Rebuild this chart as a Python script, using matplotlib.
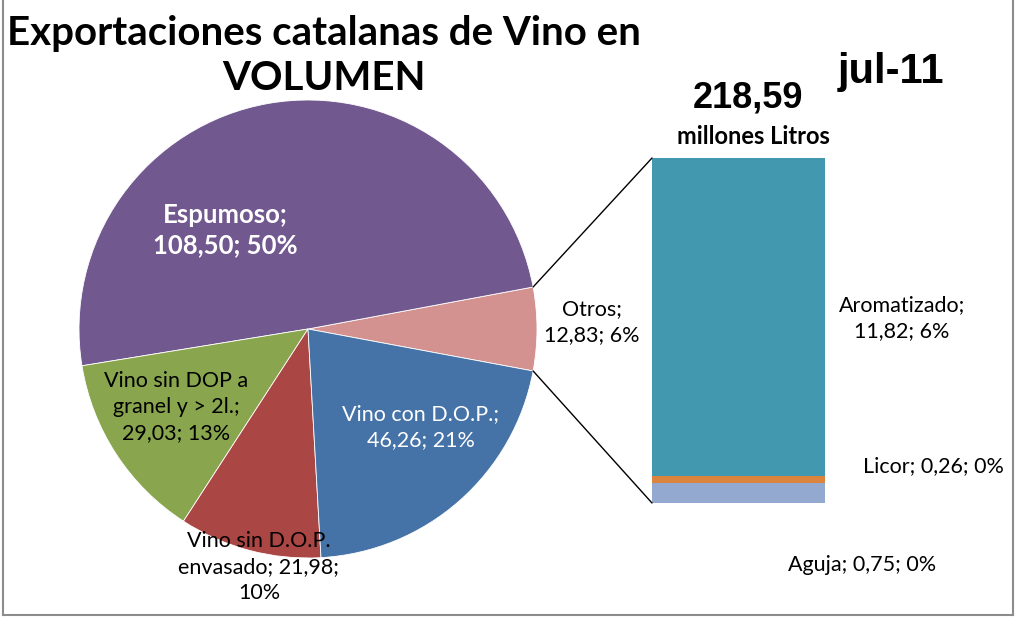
import matplotlib
matplotlib.use('Agg')
import numpy as np
import matplotlib.pyplot as plt
from matplotlib.patches import ConnectionPatch
from matplotlib.lines import Line2D

# data
pie_labels = ['Otros', 'Espumoso', 'Vino sin DOP a granel y > 2l.', 'Vino sin D.O.P. envasado', 'Vino con D.O.P.']
pie_values = [12.83, 108.50, 29.03, 21.98, 46.26]
pie_colors = ['#D39290', '#71588F', '#89A54E', '#AA4643', '#4572A7']

bar_labels = ['Aguja', 'Licor', 'Aromatizado']
bar_values = [0.75, 0.26, 11.82]
bar_colors = ['#93A9CF', '#DB843D', '#4198AF']

total_txt = '218,59'
month_txt = 'jul-11'

W, H = 1016, 618
plt.rcParams['font.family'] = ['Lato', 'DejaVu Sans']
fig = plt.figure(figsize=(W / 100, H / 100), dpi=100)

# main axes in pixel coords (y up)
ax = fig.add_axes([0, 0, 1, 1])
ax.set_aspect('equal')

cx, cy, r = 308, H - 329, 229
total = sum(pie_values)
start = -180 * pie_values[0] / total
wedges, _ = ax.pie(pie_values, colors=pie_colors, startangle=start, counterclock=True,
                   center=(cx, cy), radius=r, frame=True,
                   wedgeprops=dict(edgecolor='white', linewidth=0.6))
ax.set_xlim(0, W)
ax.set_ylim(0, H)
ax.axis('off')

def px(x, y):
    return x, H - y

lab = dict(ha='center', va='center', fontsize=15.5, linespacing=1.35)
ax.text(*px(225, 230), 'Espumoso;\n108,50; 50%', color='white', fontweight='bold',
        ha='center', va='center', fontsize=18.5, linespacing=1.33)
ax.text(*px(592, 322), 'Otros;\n12,83; 6%', color='black', **lab)
ax.text(*px(421, 427), 'Vino con D.O.P.;\n46,26; 21%', color='white', **lab)
ax.text(*px(259, 567), 'Vino sin D.O.P.\nenvasado; 21,98;\n10%', color='black', **lab)
ax.text(*px(176, 407), 'Vino sin DOP a\ngranel y > 2l.;\n29,03; 13%', color='black', **lab)
ax.text(*px(902, 318), 'Aromatizado;\n11,82; 6%', color='black', **lab)
ax.text(*px(933, 466), 'Licor; 0,26; 0%', color='black', **lab)
ax.text(*px(862, 565), 'Aguja; 0,75; 0%', color='black', **lab)

ax.text(*px(324, 56), 'Exportaciones catalanas de Vino en\nVOLUMEN', ha='center', va='center',
        fontsize=29, fontweight='bold', linespacing=1.3)
ax.text(*px(891, 72), month_txt, ha='center', va='center', fontsize=30, fontweight='bold',
        family='Liberation Sans')
ax.text(*px(748, 98), total_txt, ha='center', va='center', fontsize=26, fontweight='bold',
        family='Liberation Sans')
ax.text(*px(753, 137), 'millones Litros', ha='center', va='center', fontsize=17, fontweight='bold')

# stacked bar for "Otros"
bx = fig.add_axes([652 / W, (H - 503) / H, 173 / W, 345 / H])
bottom = 0
for v, c in zip(bar_values, bar_colors):
    bx.bar(0, v, bottom=bottom, width=1, color=c)
    bottom += v
bx.set_xlim(-0.5, 0.5)
bx.set_ylim(0, sum(bar_values))
bx.axis('off')

# connector lines from Otros wedge edges to the bar
t1 = np.deg2rad(start)
t2 = np.deg2rad(start + 360 * pie_values[0] / total)
for t, corner in [(t2, (0, 1)), (t1, (0, 0))]:
    con = ConnectionPatch(xyA=(cx + r * np.cos(t), cy + r * np.sin(t)), coordsA=ax.transData,
                          xyB=corner, coordsB=bx.transAxes, color='black', linewidth=1)
    fig.add_artist(con)

# chart border
bc = '#8C8C8C'
fig.add_artist(Line2D([3 / W, 3 / W], [1, 1 - 615 / H], color=bc, linewidth=1.5))
fig.add_artist(Line2D([3 / W, 1013 / W], [1 - 615 / H, 1 - 615 / H], color=bc, linewidth=1.5))
fig.add_artist(Line2D([1013 / W, 1013 / W], [1, 1 - 615 / H], color=bc, linewidth=1.5))

fig.savefig('out.png', dpi=100)
